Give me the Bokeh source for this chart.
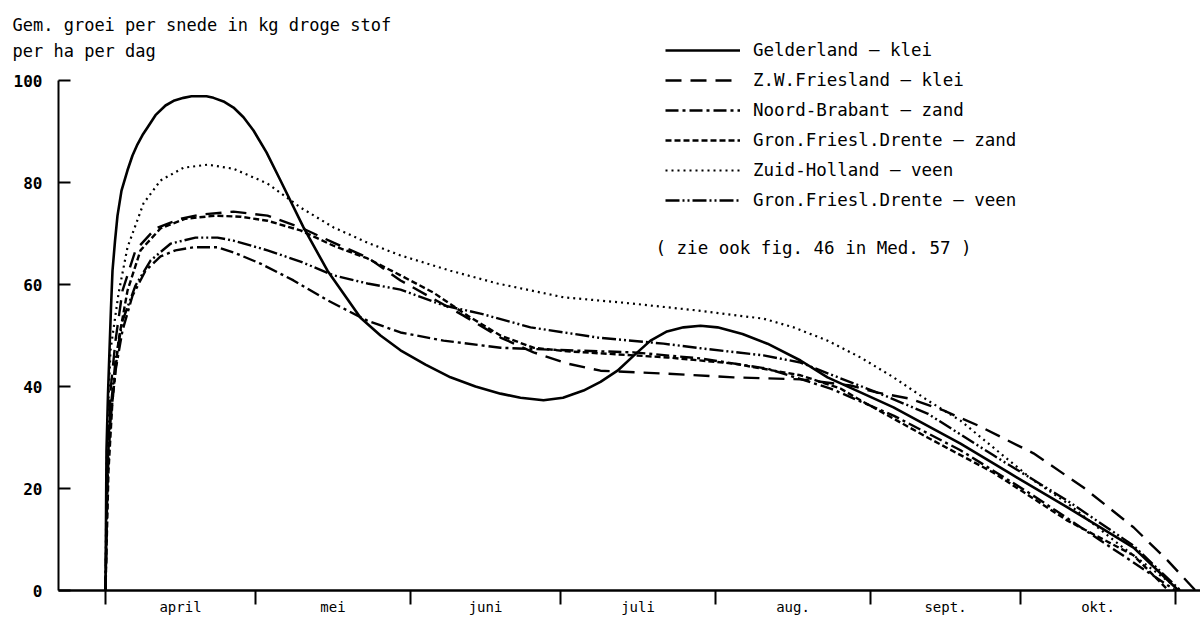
from bokeh.plotting import figure
from bokeh.models import Range1d, FixedTicker, Legend, LegendItem, Label, Title
from bokeh.embed import file_html
from bokeh.resources import INLINE

# ---------------- data ----------------
months = ["april", "mei", "juni", "juli", "aug.", "sept.", "okt."]
month_starts = [0, 30, 61, 91, 122, 153, 183, 214]          # days since 1 April
month_mids = [15, 45.5, 76, 106.5, 137.5, 168, 198.5]
y_ticks = [0, 20, 40, 60, 80, 100]

title_text = "Gem. groei per snede in kg droge stof\nper ha per dag"
note_text = "( zie ook fig. 46 in Med. 57 )"

gelderland_x = [0, 0.2, 0.5, 0.8, 1.1, 1.4, 1.9, 2.4, 3.2, 4.4, 5.4, 6.4, 7.4, 8.4, 10, 12, 13.8, 15.6, 17.2, 18.6, 20.2,
                21.6, 23.6, 25.6, 27.6, 29.6, 32.2, 35, 39.6, 44.4, 51, 55, 59, 64, 69,
                74, 79, 83, 87.6, 91.5, 95.6, 99, 102.4, 105.7, 109, 112.3, 115.6, 119, 122.4, 127.4, 132.4, 139, 144.4,
                157.6, 171, 181, 192.4, 205.6, 214.6]
gelderland_y = [0, 27.5, 38.5, 47.1, 55.5, 62.7, 68.5, 73.5, 78.4, 82.4, 85.3, 87.5, 89.3, 90.8, 93.2, 95.1, 96.1, 96.6, 96.9, 96.9, 96.9,
                96.6, 95.9, 94.7, 92.8, 90.2, 85.9, 80.4, 71.2, 62.7, 53.5, 50.0, 47.1, 44.3, 41.8,
                40.0, 38.6, 37.8, 37.3, 37.8, 39.2, 40.9, 43.1, 46.1, 49.0, 50.8, 51.6, 51.9, 51.6, 50.3, 48.4, 45.1, 41.8,
                35.9, 28.8, 22.9, 16.3, 8.4, 0]

zwfriesland_x = [0, 0.4, 1, 2, 3.4, 6, 10, 15, 19, 25.6, 32.4, 39, 45.6, 52.4, 59, 65, 71.6, 79, 85.6, 92.4,
                 99, 112.4, 125.6, 139, 149, 154.4, 161, 167.6, 174.4, 185.6, 195.6, 205.6, 212.4, 218]
zwfriesland_y = [0, 23.5, 39.2, 49.0, 58.8, 66.7, 71.0, 72.9, 73.7, 74.3, 73.5, 71.2, 68.2, 65.3, 60.8, 57.5, 53.9, 49.6, 46.7, 44.5,
                 43.1, 42.5, 41.8, 41.4, 40.2, 38.8, 37.6, 35.3, 32.4, 26.9, 20.2, 12.4, 5.9, 0]

noordbrabant_x = [0, 0.4, 1, 2, 3.4, 5.4, 8, 11, 14, 17.6, 22.4, 25.6, 31, 37.6, 44.4, 52.4, 59, 67.6, 79,
                  92.4, 105.6, 119, 132.4, 145, 157.6, 171, 185.6, 199, 214]
noordbrabant_y = [0, 21.6, 33.3, 43.1, 51.0, 57.8, 62.7, 65.5, 66.7, 67.3, 67.3, 66.3, 64.1, 60.8, 56.9, 52.9, 50.6, 49.0, 47.6,
                  47.1, 46.7, 45.5, 43.5, 39.6, 34.3, 27.5, 18.6, 9.8, 0]

gfd_zand_x = [0, 0.6, 1.4, 2.6, 4.4, 7, 11, 16, 22, 27, 32.4, 39, 45.6, 52.4, 59, 65.6, 72.4, 79, 85.6, 92.4,
              99, 112.4, 125.6, 139, 147, 151, 164.4, 177.6, 192.4, 205.6, 212.6]
gfd_zand_y = [0, 23.5, 37.3, 49.0, 58.8, 66.7, 71.0, 72.9, 73.5, 73.3, 72.5, 70.6, 67.6, 65.1, 61.8, 58.4, 53.9, 50.0, 47.6, 46.9,
              46.5, 45.7, 44.5, 42.2, 39.6, 37.3, 30.0, 23.1, 13.7, 6.9, 0]

zuidholland_x = [0, 0.2, 0.6, 1, 2.6, 4.4, 7.6, 11, 15.6, 20.4, 25.6, 32.4, 39, 45.6, 52.4, 59, 69, 78.4, 91.6,
                 105, 118.4, 131.6, 137.6, 144.4, 151, 157.6, 164.4, 171, 177.6, 185.6, 192.4, 203, 215]
zuidholland_y = [0, 23.5, 37.3, 47.1, 58.2, 67.3, 75.9, 80.4, 82.9, 83.5, 82.7, 79.8, 75.1, 71.2, 68.2, 65.7, 62.7, 60.2, 57.5,
                 56.3, 54.9, 53.3, 51.6, 49.0, 45.7, 41.8, 37.3, 33.3, 28.0, 21.6, 17.1, 8.8, 0]

gfd_veen_x = [0, 0.4, 1, 2, 3.4, 6, 9, 13, 18, 22.4, 25.6, 32.4, 39, 45.6, 52.4, 59, 67.6, 75, 85, 98.4,
              111.6, 119, 131.6, 139, 147, 154.4, 164.4, 177.6, 192.4, 205.6, 215]
gfd_veen_y = [0, 23.5, 35.3, 45.1, 52.9, 59.8, 64.7, 68.0, 69.2, 69.2, 68.6, 66.7, 64.5, 61.8, 60.2, 59.0, 55.9, 54.3, 51.6, 49.6,
              48.4, 47.5, 46.1, 44.7, 41.6, 38.8, 34.7, 26.5, 17.6, 8.8, 0]

series = [
    ("Gelderland \u2013 klei", gelderland_x, gelderland_y, "solid", 2.6),
    ("Z.W.Friesland \u2013 klei", zwfriesland_x, zwfriesland_y, "16 9", 2.4),
    ("Noord-Brabant \u2013 zand", noordbrabant_x, noordbrabant_y, "13 4 3 4", 2.4),
    ("Gron.Friesl.Drente \u2013 zand", gfd_zand_x, gfd_zand_y, "6 3", 2.4),
    ("Zuid-Holland \u2013 veen", zuidholland_x, zuidholland_y, "2 4", 2.2),
    ("Gron.Friesl.Drente \u2013 veen", gfd_veen_x, gfd_veen_y, "14 3 2 3 2 3", 2.4),
]

FONT = "DejaVu Sans Mono"

p = figure(width=1200, height=618,
           x_range=Range1d(-9.4, 219), y_range=Range1d(0, 108.63),
           output_backend="svg", toolbar_location=None,
           min_border_left=58, min_border_right=0, min_border_top=36, min_border_bottom=28)
p.grid.visible = False
p.outline_line_color = None
p.background_fill_color = "white"
p.border_fill_color = "white"

# two-line title, reaching left of the frame and down over its top part
p.add_layout(Title(text=title_text, align="left", offset=-46, text_font=FONT, text_font_size="17px",
                   text_font_style="normal", text_color="black", text_line_height=1.3,
                   standoff=-48), "above")

# x axis: month names between boundary ticks
xa = p.xaxis[0]
xa.ticker = FixedTicker(ticks=month_mids, minor_ticks=month_starts)
xa.major_label_overrides = {m: lab for m, lab in zip(month_mids, months)}
xa.major_tick_in = 0
xa.major_tick_out = 0
xa.minor_tick_in = 0
xa.minor_tick_out = 14
xa.minor_tick_line_width = 2
xa.minor_tick_line_color = "black"
xa.axis_line_width = 2.5
xa.axis_line_color = "black"
xa.major_label_text_font = FONT
xa.major_label_text_font_size = "14px"
xa.major_label_text_color = "black"
xa.major_label_standoff = -6

ya = p.yaxis[0]
ya.ticker = FixedTicker(ticks=y_ticks, minor_ticks=[])
ya.bounds = (0, 100)
ya.major_tick_in = 12
ya.major_tick_out = 0
ya.minor_tick_in = 0
ya.minor_tick_out = 0
ya.major_tick_line_width = 2
ya.axis_line_width = 2
ya.axis_line_color = "black"
ya.major_tick_line_color = "black"
ya.major_label_text_font = FONT
ya.major_label_text_font_size = "16px"
ya.major_label_text_font_style = "bold"
ya.major_label_text_color = "black"
ya.major_label_standoff = 16

items = []
for name, xs, ys, dash, lw in series:
    r = p.line(xs, ys, line_color="black", line_width=lw, line_dash=dash, line_join="round")
    items.append(LegendItem(label=name, renderers=[r]))

legend = Legend(items=items, location=(607, 380), glyph_width=75, glyph_height=20, label_height=20,
                spacing=10, padding=0, margin=0, border_line_color=None, background_fill_alpha=0,
                label_standoff=13, label_text_font=FONT, label_text_font_size="17.5px",
                label_text_color="black")
p.add_layout(legend)

p.add_layout(Label(x=597, y=343, x_units="screen", y_units="screen", text=note_text,
                   text_font=FONT, text_font_size="17.5px", text_baseline="middle", text_color="black"))

open("out.html", "w").write(file_html(p, INLINE))
